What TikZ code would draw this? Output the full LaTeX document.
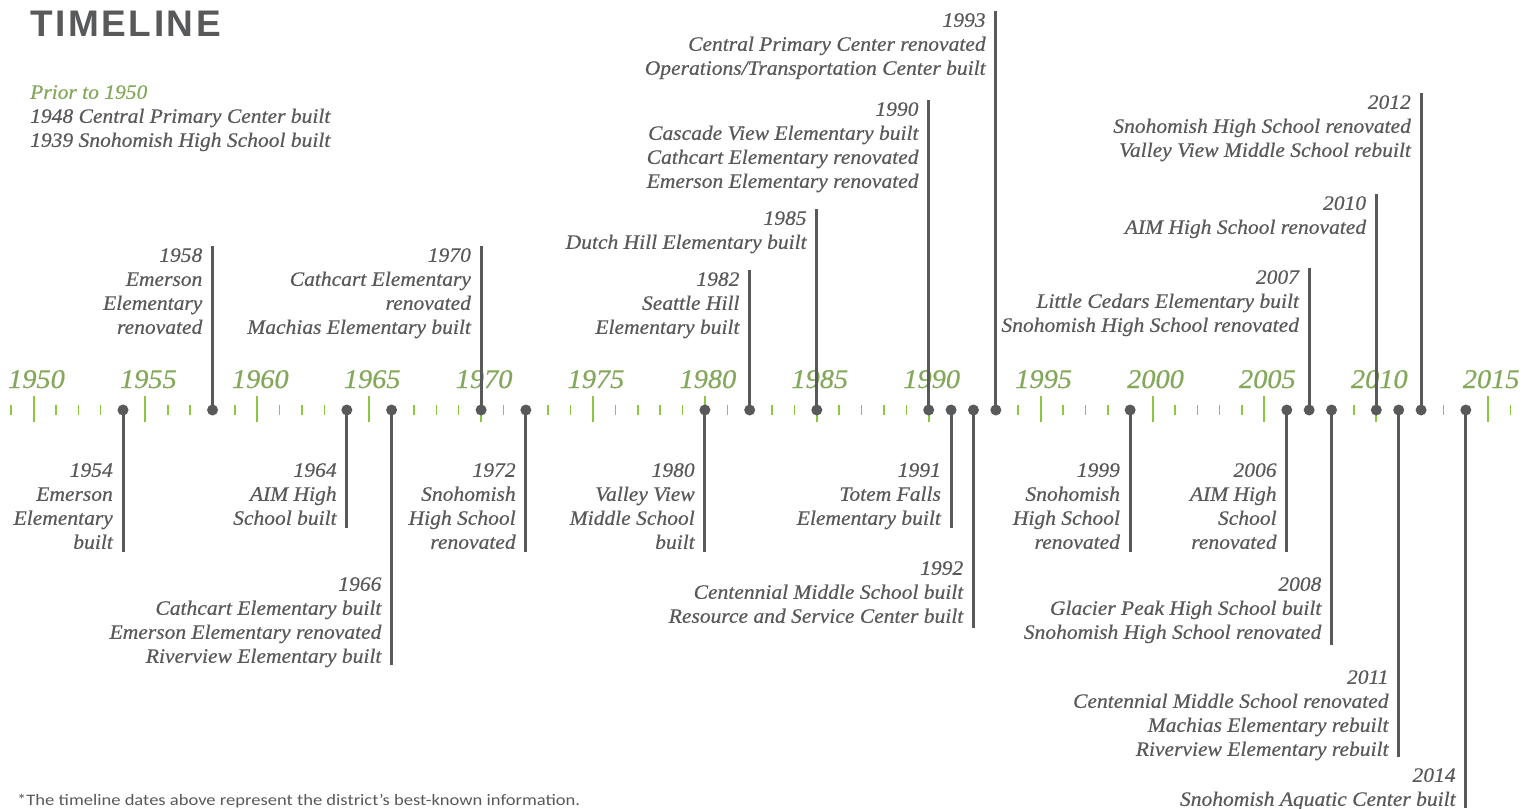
\documentclass[tikz,border=0pt]{standalone}
\usepackage{fontspec}
\setmainfont{Liberation Serif}[FakeStretch=1.05, FakeBold=0.5]
\newfontfamily\headfont{Liberation Sans}[LetterSpace=7]
\newfontfamily\notefont{Carlito}[FakeStretch=1.16]
\usepackage{xcolor}
\usepackage{tikz}
\usetikzlibrary{positioning}

\definecolor{ink}{HTML}{58595B}
\definecolor{leaf}{HTML}{83A85A}
\definecolor{tickgreen}{HTML}{8DC63F}
\newcommand{\yx}[1]{33.5+22.38*(#1-1950)}

\begin{document}
\begin{tikzpicture}[x=1pt, y=-1pt,
    lbl/.style={inner sep=0pt, align=right, text=ink, font=\fontsize{20.5}{24}\selectfont\itshape},
    axislbl/.style={inner sep=0pt, anchor=base, text=leaf, font=\fontsize{27}{30}\selectfont\itshape},
    dot/.style={circle, fill=ink, inner sep=0pt, minimum size=11pt},
    stem/.style={draw=ink, line width=3pt},
    minortick/.style={draw=tickgreen, line width=1.5pt},
    majortick/.style={draw=tickgreen, line width=2pt}]
    \useasboundingbox (0,0) rectangle (1530,808);

    % Heading and notes
    \node[inner sep=0pt, anchor=base west, text=ink, font=\fontsize{37}{40}\selectfont\headfont\bfseries] (title) at (30,37) {TIMELINE};
    \node[lbl, align=left, anchor=north west] (prior) at (30,85) {\textcolor{leaf}{Prior to 1950}\\1948 Central Primary Center built\\1939 Snohomish High School built};
    \node[inner sep=0pt, anchor=base west, text=ink, font=\fontsize{16}{18}\selectfont\notefont] (note) at (17,805) {*The timeline dates above represent the district’s best-known information.};

    % Axis
    \foreach \yr in {1949,...,2016}
        \draw[minortick] ({\yx{\yr}},405) -- ++(0,10);
    \foreach \yr in {1950,1955,...,2015} {
        \draw[majortick] ({\yx{\yr}},396) -- ++(0,26);
        \node[axislbl] (y\yr) at ({\yx{\yr}+3},388) {\yr};
    }

    % Events above the axis
    \node[dot] (d1958) at ({\yx{1958}},410) {};
    \coordinate (e1958) at (d1958 |- 0,246);
    \node[lbl, anchor=north east] (t1958) at ([xshift=-10pt, yshift=-2pt]e1958) {1958\\Emerson\\Elementary\\renovated};
    \node[dot] (d1970) at ({\yx{1970}},410) {};
    \coordinate (e1970) at (d1970 |- 0,246);
    \node[lbl, anchor=north east] (t1970) at ([xshift=-10pt, yshift=-2pt]e1970) {1970\\Cathcart Elementary\\renovated\\Machias Elementary built};
    \node[dot] (d1982) at ({\yx{1982}},410) {};
    \coordinate (e1982) at (d1982 |- 0,270);
    \node[lbl, anchor=north east] (t1982) at ([xshift=-10pt, yshift=-2pt]e1982) {1982\\Seattle Hill\\Elementary built};
    \node[dot] (d1985) at ({\yx{1985}},410) {};
    \coordinate (e1985) at (d1985 |- 0,209);
    \node[lbl, anchor=north east] (t1985) at ([xshift=-10pt, yshift=-2pt]e1985) {1985\\Dutch Hill Elementary built};
    \node[dot] (d1990) at ({\yx{1990}},410) {};
    \coordinate (e1990) at (d1990 |- 0,100);
    \node[lbl, anchor=north east] (t1990) at ([xshift=-10pt, yshift=-2pt]e1990) {1990\\Cascade View Elementary built\\Cathcart Elementary renovated\\Emerson Elementary renovated};
    \node[dot] (d1993) at ({\yx{1993}},410) {};
    \coordinate (e1993) at (d1993 |- 0,11);
    \node[lbl, anchor=north east] (t1993) at ([xshift=-10pt, yshift=-2pt]e1993) {1993\\Central Primary Center renovated\\Operations/Transportation Center built};
    \node[dot] (d2007) at ({\yx{2007}},410) {};
    \coordinate (e2007) at (d2007 |- 0,268);
    \node[lbl, anchor=north east] (t2007) at ([xshift=-10pt, yshift=-2pt]e2007) {2007\\Little Cedars Elementary built\\Snohomish High School renovated};
    \node[dot] (d2010) at ({\yx{2010}},410) {};
    \coordinate (e2010) at (d2010 |- 0,194);
    \node[lbl, anchor=north east] (t2010) at ([xshift=-10pt, yshift=-2pt]e2010) {2010\\AIM High School renovated};
    \node[dot] (d2012) at ({\yx{2012}},410) {};
    \coordinate (e2012) at (d2012 |- 0,93);
    \node[lbl, anchor=north east] (t2012) at ([xshift=-10pt, yshift=-2pt]e2012) {2012\\Snohomish High School renovated\\Valley View Middle School rebuilt};

    % Events below the axis
    \node[dot] (d1954) at ({\yx{1954}},410) {};
    \coordinate (e1954) at (d1954 |- 0,552);
    \node[lbl, anchor=north east] (t1954) at ({\yx{1954}-10},463) {1954\\Emerson\\Elementary\\built};
    \node[dot] (d1964) at ({\yx{1964}},410) {};
    \coordinate (e1964) at (d1964 |- 0,528);
    \node[lbl, anchor=north east] (t1964) at ({\yx{1964}-10},463) {1964\\AIM High\\School built};
    \node[dot] (d1966) at ({\yx{1966}},410) {};
    \coordinate (e1966) at (d1966 |- 0,665);
    \node[lbl, anchor=north east] (t1966) at ({\yx{1966}-10},577) {1966\\Cathcart Elementary built\\Emerson Elementary renovated\\Riverview Elementary built};
    \node[dot] (d1972) at ({\yx{1972}},410) {};
    \coordinate (e1972) at (d1972 |- 0,552);
    \node[lbl, anchor=north east] (t1972) at ({\yx{1972}-10},463) {1972\\Snohomish\\High School\\renovated};
    \node[dot] (d1980) at ({\yx{1980}},410) {};
    \coordinate (e1980) at (d1980 |- 0,552);
    \node[lbl, anchor=north east] (t1980) at ({\yx{1980}-10},463) {1980\\Valley View\\Middle School\\built};
    \node[dot] (d1991) at ({\yx{1991}},410) {};
    \coordinate (e1991) at (d1991 |- 0,528);
    \node[lbl, anchor=north east] (t1991) at ({\yx{1991}-10},463) {1991\\Totem Falls\\Elementary built};
    \node[dot] (d1992) at ({\yx{1992}},410) {};
    \coordinate (e1992) at (d1992 |- 0,628);
    \node[lbl, anchor=north east] (t1992) at ({\yx{1992}-10},561) {1992\\Centennial Middle School built\\Resource and Service Center built};
    \node[dot] (d1999) at ({\yx{1999}},410) {};
    \coordinate (e1999) at (d1999 |- 0,552);
    \node[lbl, anchor=north east] (t1999) at ({\yx{1999}-10},463) {1999\\Snohomish\\High School\\renovated};
    \node[dot] (d2006) at ({\yx{2006}},410) {};
    \coordinate (e2006) at (d2006 |- 0,552);
    \node[lbl, anchor=north east] (t2006) at ({\yx{2006}-10},463) {2006\\AIM High\\School\\renovated};
    \node[dot] (d2008) at ({\yx{2008}},410) {};
    \coordinate (e2008) at (d2008 |- 0,645);
    \node[lbl, anchor=north east] (t2008) at ({\yx{2008}-10},577) {2008\\Glacier Peak High School built\\Snohomish High School renovated};
    \node[dot] (d2011) at ({\yx{2011}},410) {};
    \coordinate (e2011) at (d2011 |- 0,757);
    \node[lbl, anchor=north east] (t2011) at ({\yx{2011}-10},670) {2011\\Centennial Middle School renovated\\Machias Elementary rebuilt\\Riverview Elementary rebuilt};
    \node[dot] (d2014) at ({\yx{2014}},410) {};
    \coordinate (e2014) at (d2014 |- 0,808);
    \node[lbl, anchor=north east] (t2014) at ({\yx{2014}-10},768) {2014\\Snohomish Aquatic Center built};

    % Stems
    \foreach \yr in {1954,1958,1964,1966,1970,1972,1980,1982,1985,1990,1991,1992,1993,1999,2006,2007,2008,2010,2011,2012,2014}
        \draw[stem] (d\yr.center) -- (e\yr);
\end{tikzpicture}
\end{document}
